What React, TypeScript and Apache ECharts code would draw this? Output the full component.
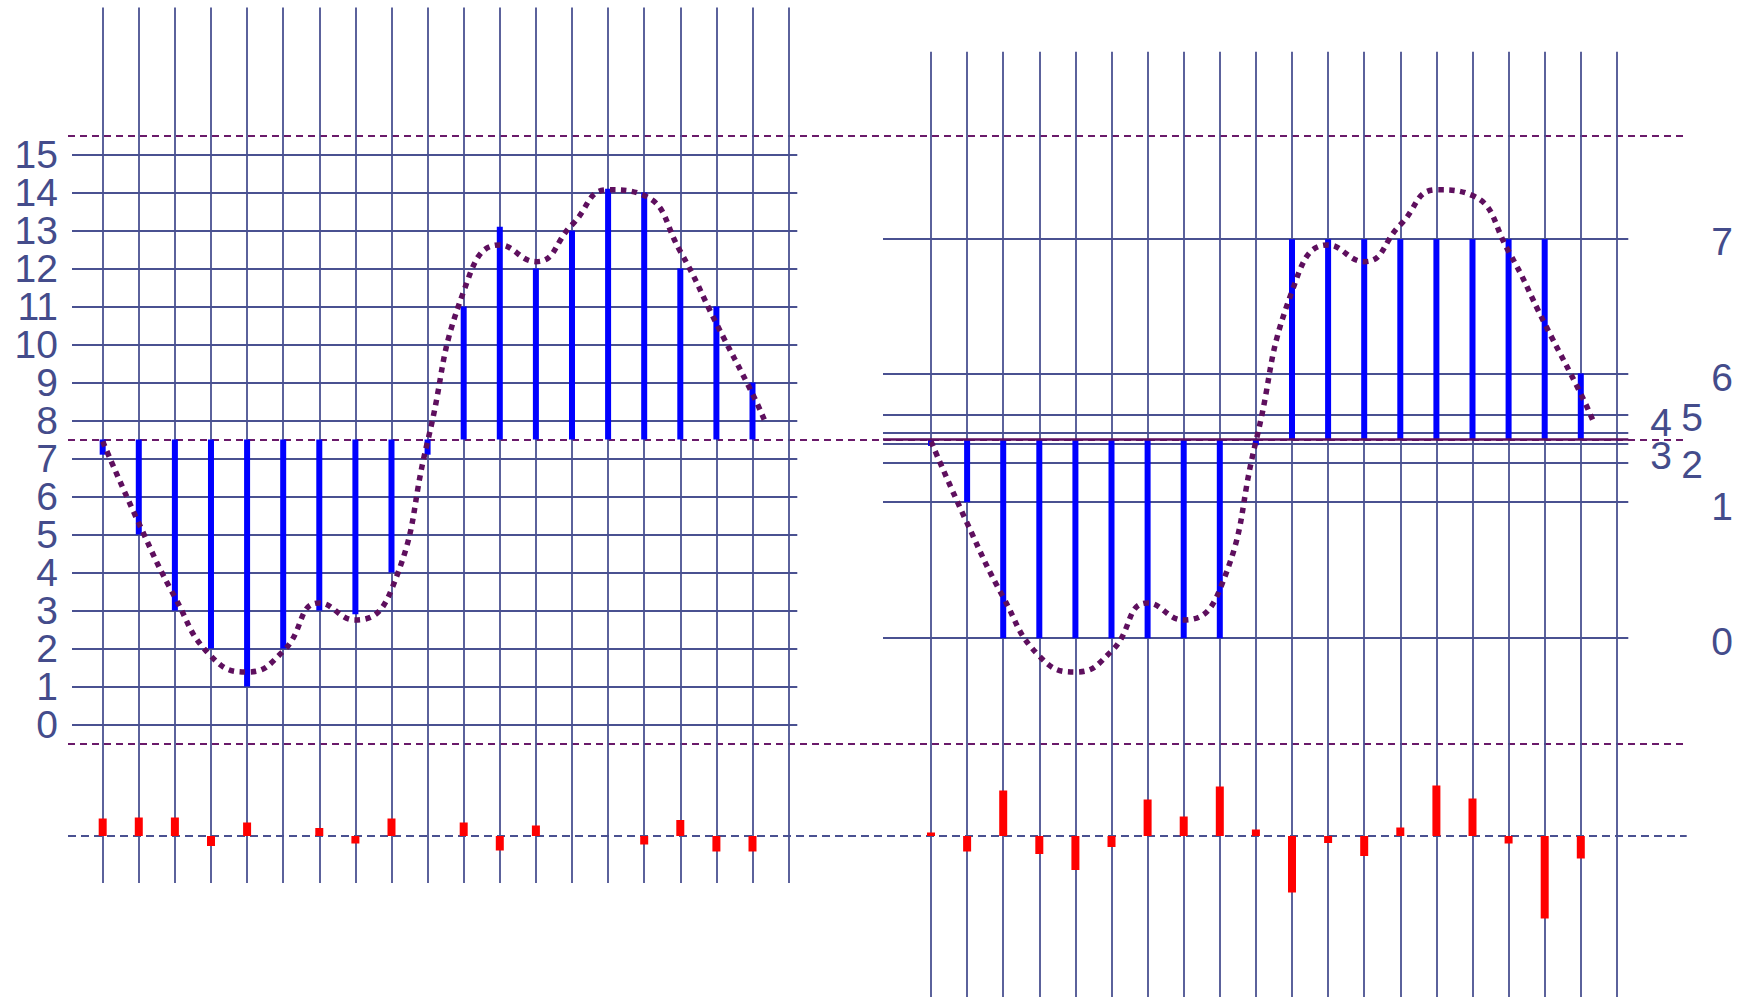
import React, { useEffect, useRef } from 'react';
import * as echarts from 'echarts';

// ---------- data ----------
const xTicks = [0, 1, 2, 3, 4, 5, 6, 7, 8, 9, 10, 11, 12, 13, 14, 15, 16, 17, 18, 19];
const barIndex = [0, 1, 2, 3, 4, 5, 6, 7, 8, 9, 10, 11, 12, 13, 14, 15, 16, 17, 18];
const leftTicks = [0, 1, 2, 3, 4, 5, 6, 7, 8, 9, 10, 11, 12, 13, 14, 15];
const leftLabelsEven = [0, 2, 4, 6, 8, 10, 12, 14];
const leftLabelsOdd = [1, 3, 5, 7, 9, 11, 13, 15];
const baseline = 7.5;
const guideValues = [-0.5, 7.5, 15.5];

const blueLeft = [7.1, 5, 3, 2, 1, 2, 3, 2.9, 4, 7.1, 11, 13.1, 12, 13, 14.1, 14, 12, 11, 9];
const redLeft = [1.75, 1.85, 1.85, -1.0, 1.35, 0, 0.8, -0.75, 1.75, 0, 1.35, -1.45, 1.05, 0, 0, -0.85, 1.6, -1.55, -1.55];

const curveX = [0, 1, 2, 3, 4, 5, 6, 7, 8, 9, 10, 11, 12, 13, 14, 15, 16, 17, 18, 18.35];
const curveY = [7.45, 5.3, 3.35, 1.8, 1.38, 1.93, 3.2, 2.75, 3.55, 7.45, 11.4, 12.62, 12.18, 13.15, 14.07, 13.92, 12.45, 10.55, 8.7, 7.97];

const rightTickValues = [2.27, 5.85, 6.9, 7.38, 7.69, 8.16, 9.24, 12.77];
const rightTickLabels = ['0', '1', '2', '3', '4', '5', '6', '7'];
const blueRight = [7.33, 5.85, 2.27, 2.27, 2.27, 2.27, 2.27, 2.27, 2.27, 7.35, 12.77, 12.77, 12.77, 12.77, 12.77, 12.77, 12.77, 12.77, 9.24];
const redRight = [0.35, -1.55, 4.55, -1.8, -3.4, -1.1, 3.65, 1.95, 4.95, 0.65, -5.65, -0.7, -2.0, 0.85, 5.05, 3.75, -0.75, -8.25, -2.25];

// ---------- styles ----------
const GRID_COLOR = '#4a5191';
const LABEL_COLOR = '#444c8b';
const PURPLE = '#5e0f5e';
const FONT = "'Liberation Sans', Arial, Helvetica, sans-serif";

// per-label rich padding for right axis [top, right, bottom, left]
const rightPads: number[][] = [
  [7, 0, 0, 61],
  [8, 0, 0, 61],
  [5, 0, 0, 31],
  [22, 0, 0, 0],
  [0, 0, 19, 0],
  [7, 0, 0, 31],
  [9, 0, 0, 61],
  [4, 0, 0, 61],
];

const hiddenAxis = (gridIndex: number, min: number, max: number) => ({
  type: 'value', gridIndex, min, max, show: false,
});

// bar drawn from the baseline value to the data value, via the axis scales
const baselineBar = (width: number, color: string) => (params: any, api: any) => {
  const x = api.value(0);
  const v = api.value(1);
  const p0 = api.coord([x, baseline]);
  const p1 = api.coord([x, v]);
  return {
    type: 'rect',
    shape: {
      x: p0[0] - width / 2,
      y: Math.min(p0[1], p1[1]),
      width,
      height: Math.abs(p1[1] - p0[1]),
    },
    style: { fill: color },
  };
};

function buildOption() {
  const rich: Record<string, any> = {};
  rightTickLabels.forEach((_, i) => {
    rich['r' + i] = {
      fontSize: 39,
      lineHeight: 30,
      color: LABEL_COLOR,
      fontFamily: FONT,
      padding: rightPads[i],
    };
  });

  const gridLine = { show: true, lineStyle: { color: GRID_COLOR, width: 1.8 } };

  const xAxisGrid = (gridIndex: number, min: number, max: number) => ({
    type: 'value',
    gridIndex,
    min,
    max,
    axisLine: { show: false },
    axisTick: { show: false, customValues: xTicks },
    axisLabel: { show: false, customValues: xTicks },
    splitLine: gridLine,
  });

  const leftLabelAxis = (labels: number[], withGrid: boolean) => ({
    type: 'value',
    gridIndex: 0,
    position: 'left',
    offset: 0,
    min: -4.171,
    max: 18.868,
    axisLine: { show: false },
    axisTick: { show: false, customValues: withGrid ? leftTicks : labels },
    axisLabel: {
      customValues: labels,
      showMinLabel: true,
      showMaxLabel: true,
      hideOverlap: false,
      fontSize: 39,
      color: LABEL_COLOR,
      fontFamily: FONT,
      margin: 14,
    },
    splitLine: withGrid ? gridLine : { show: false },
  });

  return {
    animation: false,
    backgroundColor: '#ffffff',
    grid: [
      { left: 72, top: 7.5, width: 725.3, height: 875.5 },
      { left: 883, top: 51.7, width: 745.3, height: 945.3 },
      { left: 68, top: 7.5, width: 1618.7, height: 875.5 },
    ],
    xAxis: [
      xAxisGrid(0, -0.85, 19.241),
      hiddenAxis(0, -0.85, 19.241),
      xAxisGrid(1, -1.33, 19.316),
      hiddenAxis(1, -1.33, 19.316),
      hiddenAxis(2, 0, 1),
    ],
    yAxis: [
      leftLabelAxis(leftLabelsEven, true),
      hiddenAxis(0, -4.7, 82.85),
      {
        type: 'value',
        gridIndex: 1,
        position: 'right',
        min: -7.171,
        max: 17.705,
        axisLine: { show: false },
        axisTick: { show: false, customValues: rightTickValues },
        axisLabel: {
          customValues: rightTickValues,
          showMinLabel: true,
          showMaxLabel: true,
          hideOverlap: false,
          margin: 22,
          fontSize: 39,
          color: LABEL_COLOR,
          fontFamily: FONT,
          formatter: (val: number) => {
            let idx = 0;
            let best = Infinity;
            rightTickValues.forEach((t, i) => {
              const d = Math.abs(t - val);
              if (d < best) { best = d; idx = i; }
            });
            return '{r' + idx + '|' + rightTickLabels[idx] + '}';
          },
          rich,
        },
        splitLine: gridLine,
      },
      hiddenAxis(1, -16.1, 78.43),
      {
        type: 'value',
        gridIndex: 2,
        min: -4.171,
        max: 18.868,
        axisLine: { show: false },
        axisTick: { show: false, customValues: guideValues },
        axisLabel: { show: false, customValues: guideValues },
        splitLine: { show: true, lineStyle: { color: '#6a1a6a', width: 2, type: [7, 5] } },
      },
      {
        type: 'value',
        gridIndex: 2,
        min: -4.7,
        max: 82.85,
        axisLine: { show: false },
        axisTick: { show: false, customValues: [0] },
        axisLabel: { show: false, customValues: [0] },
        splitLine: { show: true, lineStyle: { color: '#4a5191', width: 2, type: [8, 5] } },
      },
      leftLabelAxis(leftLabelsOdd, false),
    ],
    series: [
      {
        type: 'custom', xAxisIndex: 0, yAxisIndex: 0, silent: true, z: 3,
        renderItem: baselineBar(6, '#0000ff'),
        encode: { x: 0, y: 1 },
        data: barIndex.map((i) => [i, blueLeft[i]]),
      },
      {
        type: 'bar', xAxisIndex: 1, yAxisIndex: 1, barWidth: 8, silent: true,
        itemStyle: { color: '#ff0000' }, data: barIndex.map((i) => [i, redLeft[i]]),
      },
      {
        type: 'line', xAxisIndex: 0, yAxisIndex: 0, smooth: 0.5, showSymbol: false, silent: true, z: 5,
        lineStyle: { color: PURPLE, width: 5.5, type: [5.5, 5.5], cap: 'butt' },
        data: curveX.map((x, i) => [x, curveY[i]]),
      },
      {
        type: 'custom', xAxisIndex: 2, yAxisIndex: 2, silent: true, z: 3,
        renderItem: baselineBar(6, '#0000ff'),
        encode: { x: 0, y: 1 },
        data: barIndex.map((i) => [i, blueRight[i]]),
      },
      {
        type: 'line', xAxisIndex: 2, yAxisIndex: 2, silent: true, showSymbol: false, z: 4,
        data: [],
        markLine: {
          silent: true, symbol: 'none', label: { show: false },
          lineStyle: { color: PURPLE, width: 2.5, type: 'solid' },
          data: [{ yAxis: baseline }],
        },
      },
      {
        type: 'bar', xAxisIndex: 3, yAxisIndex: 3, barWidth: 8, silent: true,
        itemStyle: { color: '#ff0000' }, data: barIndex.map((i) => [i, redRight[i]]),
      },
      {
        type: 'line', xAxisIndex: 2, yAxisIndex: 2, smooth: 0.5, showSymbol: false, silent: true, z: 5,
        lineStyle: { color: PURPLE, width: 5.5, type: [5.5, 5.5], cap: 'butt' },
        data: curveX.map((x, i) => [x, curveY[i]]),
      },
    ],
  };
}

export default function App() {
  const ref = useRef<HTMLDivElement>(null);
  useEffect(() => {
    if (!ref.current) return;
    const chart = echarts.init(ref.current, null, { renderer: 'svg' });
    chart.setOption(buildOption() as any);
    return () => chart.dispose();
  }, []);
  return (
    <div
      ref={ref}
      style={{ position: 'fixed', left: 0, top: 0, width: 1742, height: 997, background: '#fff' }}
    />
  );
}
